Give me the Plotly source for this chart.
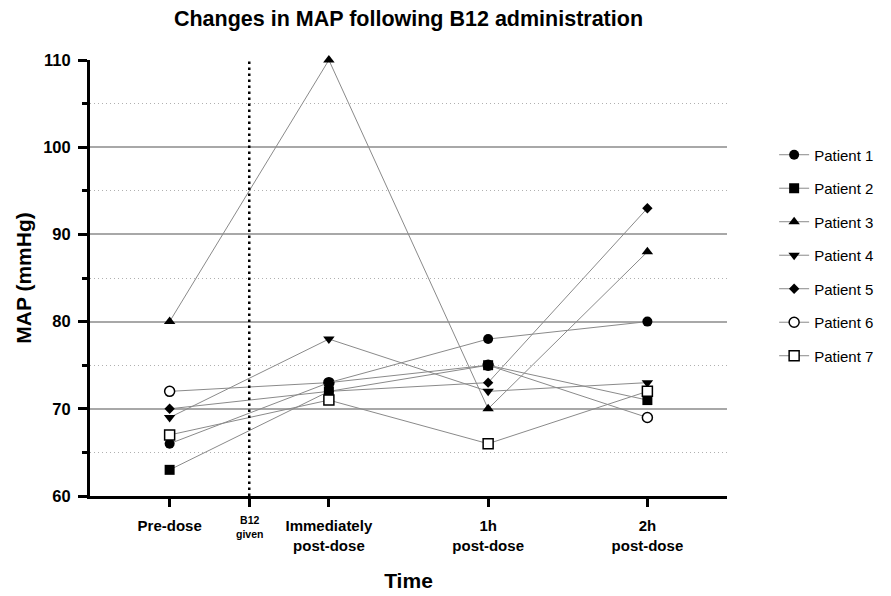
import plotly.graph_objects as go

# ---- data ----
time_labels = ["Pre-dose", "Immediately<br>post-dose", "1h<br>post-dose", "2h<br>post-dose"]
time_x = [0, 1, 2, 3]
b12_x = 0.5
b12_label = "B12<br>given"

patients = ["Patient 1", "Patient 2", "Patient 3", "Patient 4", "Patient 5", "Patient 6", "Patient 7"]
p1 = [66, 73, 78, 80]
p2 = [63, 72, 75, 71]
p3 = [80, 110, 70, 88]
p4 = [69, 78, 72, 73]
p5 = [70, 72, 73, 93]
p6 = [72, 73, 75, 69]
p7 = [67, 71, 66, 72]
values = [p1, p2, p3, p4, p5, p6, p7]

y_ticks = [60, 70, 80, 90, 100, 110]

# ---- styles ----
symbols = ["circle", "square", "triangle-up", "triangle-down", "diamond", "circle", "square"]
fills = ["black", "black", "black", "black", "black", "white", "white"]
sizes = [10, 10, 10, 10, 8, 10, 10]
draw_order = [5, 4, 0, 1, 2, 3, 6]
FONT = "Liberation Sans, Arial, sans-serif"

fig = go.Figure()
for i in draw_order:
    name, vals = patients[i], values[i]
    fig.add_trace(go.Scatter(
        x=time_x, y=vals, name=name, mode="lines+markers",
        legendgroup=name, legendrank=i + 1, cliponaxis=False,
        line=dict(color="#8a8a8a", width=1),
        marker=dict(symbol=symbols[i], size=sizes[i], color=fills[i],
                    line=dict(color="black", width=1.5 if fills[i] == "white" else 0)),
    ))

fig.add_shape(type="line", xref="x", yref="paper", x0=b12_x, x1=b12_x, y0=0, y1=1,
              line=dict(color="black", width=2.5, dash="2.5px,3.5px"), layer="above")

fig.add_annotation(x=b12_x, xref="x", y=-0.036, yref="paper", yanchor="top",
                   text="<b>" + b12_label + "</b>", showarrow=False,
                   font=dict(size=10.5, family=FONT, color="black"))

fig.update_layout(
    width=891, height=596,
    margin=dict(l=90, r=164, t=60, b=100, autoexpand=False),
    plot_bgcolor="white", paper_bgcolor="white",
    font=dict(family=FONT, color="black"),
    title=dict(text="<b>Changes in MAP following B12 administration</b>",
               x=0.5, xref="paper", xanchor="center", y=1 - 18 / 596, yanchor="middle",
               font=dict(size=21.5, family=FONT, color="black"), automargin=False),
    showlegend=True,
    legend=dict(x=1.074, xanchor="left", y=0.82, yanchor="top",
                font=dict(size=15, family=FONT, color="black"),
                tracegroupgap=11, bgcolor="rgba(0,0,0,0)"),
    xaxis=dict(
        range=[-0.5, 3.5], tickmode="array", automargin=False,
        tickvals=[time_x[0], b12_x] + time_x[1:],
        ticktext=[time_labels[0], ""] + time_labels[1:],
        showline=True, linecolor="black", linewidth=3,
        ticks="outside", ticklen=8, tickwidth=3, tickcolor="black",
        ticklabelstandoff=6,
        showgrid=False, zeroline=False,
        tickfont=dict(size=15, family=FONT, color="black", weight="bold"),
        title=dict(text="<b>Time</b>", font=dict(size=21, family=FONT, color="black"), standoff=21),
    ),
    yaxis=dict(
        range=[60, 110], tickmode="array", tickvals=y_ticks, automargin=False,
        showline=True, linecolor="black", linewidth=3,
        ticks="outside", ticklen=9, tickwidth=3, tickcolor="black",
        ticklabelstandoff=4,
        showgrid=True, gridcolor="#a8a8a8", gridwidth=1.5, zeroline=False,
        tickfont=dict(size=16.5, family=FONT, color="black", weight="bold"),
        minor=dict(dtick=5, tick0=60, ticks="outside", ticklen=5, tickwidth=3, tickcolor="black",
                   showgrid=True, gridcolor="#b0b0b0", gridwidth=1, griddash="1px,3px"),
        title=dict(text="<b>MAP (mmHg)</b>", font=dict(size=21, family=FONT, color="black"), standoff=6),
    ),
)

fig.write_html("out.html", config={"displayModeBar": False},
               post_script="document.body.style.margin='0';")
